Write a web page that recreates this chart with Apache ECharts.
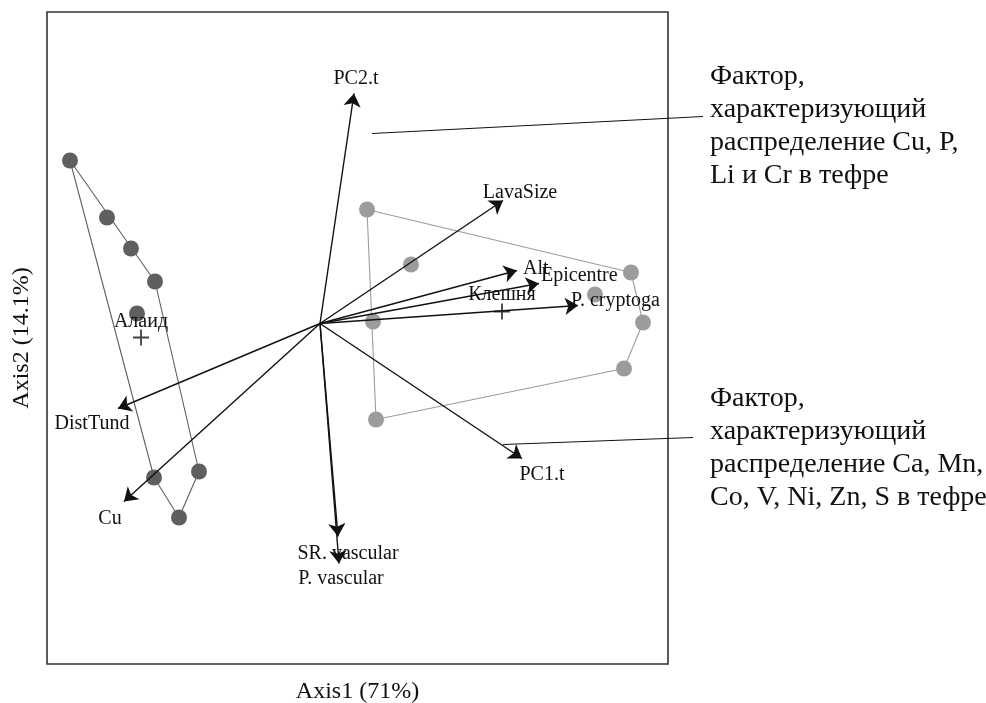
<!DOCTYPE html>
<html>
<head>
<meta charset="utf-8">
<script src="https://cdn.jsdelivr.net/npm/echarts@6/dist/echarts.min.js"></script>
<style>
  html, body { margin: 0; padding: 0; background: #fff; }
  #chart { width: 986px; height: 703px; }
</style>
</head>
<body>
<div id="chart"></div>
<script>
// Site scores on the first two ordination axes, one list per volcano
const alaidSites = [[-2.50, 1.63], [-2.13, 1.06], [-1.89, 0.75], [-1.65, 0.42], [-1.83, 0.10], [-1.66, -1.54], [-1.21, -1.48], [-1.41, -1.94]];
const kleshnyaSites = [[0.47, 1.14], [0.91, 0.59], [0.53, 0.02], [3.11, 0.51], [2.75, 0.29], [3.23, 0.01], [3.04, -0.45], [0.56, -0.96]];
const groupNames = ['Алаид', 'Клешня'];
const groupCentroids = [[-1.79, -0.14], [1.82, 0.12]];

// Fitted environmental vectors (arrow tips; all start at the origin)
const vectorNames = ['PC2.t', 'LavaSize', 'Alt', 'Epicentre', 'P. cryptoga', 'PC1.t', 'SR. vascular', 'P. vascular', 'DistTund', 'Cu'];
const vectorTips = [[0.34, 2.30], [1.83, 1.23], [1.97, 0.53], [2.19, 0.40], [2.58, 0.18], [2.02, -1.35], [0.18, -2.13], [0.19, -2.40], [-2.02, -0.85], [-1.96, -1.78]];

const axisTitles = ['Axis1 (71%)', 'Axis2 (14.1%)'];

// Explanatory notes for the two tephra factors, with the point each leader line starts from
const factorNotes = [
  'Фактор,\nхарактеризующий\nраспределение Cu, P,\nLi и Cr в тефре',
  'Фактор,\nхарактеризующий\nраспределение Ca, Mn,\nCo, V, Ni, Zn, S в тефре'
];
const factorAnchors = [[0.52, 1.90], [1.83, -1.21]];
const factorLeaderEnds = [[3.83, 2.07], [3.73, -1.14]];

// ---- styling ----
const FONT = '"Liberation Serif", "Times New Roman", serif';
const TEXT = '#111';
const groupColors = ['#5f5f62', '#9c9c9c'];
// label placement for each vector: [dx, dy] from the arrow tip, and alignment
const vectorLabelPlace = {
  'PC2.t': [2, -15, 'center'],
  'LavaSize': [17, -8, 'center'],
  'Alt': [6, -2, 'left'],
  'Epicentre': [2, -8, 'left'],
  'P. cryptoga': [-7, -5, 'left'],
  'PC1.t': [20, 16, 'center'],
  'SR. vascular': [10, 17, 'center'],
  'P. vascular': [2, 15, 'center'],
  'DistTund': [-26, 15, 'center'],
  'Cu': [-14, 17, 'center']
};
const groupLabelDy = [-16, -17];

// convex hull (monotone chain) around a group of sites
function hull(pts) {
  const p = pts.slice().sort((a, b) => a[0] - b[0] || a[1] - b[1]);
  const cross = (o, a, b) => (a[0] - o[0]) * (b[1] - o[1]) - (a[1] - o[1]) * (b[0] - o[0]);
  const lower = [], upper = [];
  for (const q of p) {
    while (lower.length >= 2 && cross(lower[lower.length - 2], lower[lower.length - 1], q) <= 0) lower.pop();
    lower.push(q);
  }
  for (let i = p.length - 1; i >= 0; i--) {
    const q = p[i];
    while (upper.length >= 2 && cross(upper[upper.length - 2], upper[upper.length - 1], q) <= 0) upper.pop();
    upper.push(q);
  }
  upper.pop(); lower.pop();
  const h = lower.concat(upper);
  h.push(h[0]);
  return h;
}

const groups = [alaidSites, kleshnyaSites];
const series = [];

groups.forEach((sites, g) => {
  series.push({
    type: 'line', data: hull(sites), symbol: 'none', silent: true, z: 1,
    lineStyle: { color: groupColors[g], width: 1.1 }
  });
  series.push({
    type: 'scatter', data: sites, symbolSize: 16, silent: true, z: 2,
    itemStyle: { color: groupColors[g], opacity: 1 }
  });
});

// arrows from the origin
series.push({
  type: 'lines', coordinateSystem: 'cartesian2d', silent: true, z: 4,
  symbol: ['none', 'arrow'], symbolSize: [0, 13],
  lineStyle: { color: '#111', width: 1.4, opacity: 1 },
  data: vectorTips.map(t => ({ coords: [[0, 0], t] }))
});

// factor leader lines (run past the frame to the notes)
series.push({
  type: 'lines', coordinateSystem: 'cartesian2d', silent: true, z: 4, clip: false,
  lineStyle: { color: '#111', width: 1.2, opacity: 1 },
  data: factorAnchors.map((a, i) => ({ coords: [a, factorLeaderEnds[i]] }))
});

// centroid crosses
series.push({
  type: 'scatter', data: groupCentroids, silent: true, z: 5,
  symbol: 'path://M0,7.1H16V8.9H0Z M7.1,0H8.9V16H7.1Z', symbolSize: 16,
  itemStyle: { color: '#111' }
});

const labelStyle = {
  show: true, position: 'inside', formatter: p => p.name,
  fontFamily: FONT, fontSize: 20, color: TEXT, verticalAlign: 'middle',
  textBorderWidth: 0, opacity: 1
};

// vector labels
series.push({
  type: 'scatter', silent: true, z: 6, symbolSize: 1,
  itemStyle: { color: 'rgba(0,0,0,0)' },
  data: vectorTips.map((t, i) => {
    const pl = vectorLabelPlace[vectorNames[i]];
    return {
      value: t, name: vectorNames[i],
      label: { offset: [pl[0], pl[1]], align: pl[2] }
    };
  }),
  label: labelStyle
});

// group labels above the centroids
series.push({
  type: 'scatter', silent: true, z: 6, symbolSize: 1,
  itemStyle: { color: 'rgba(0,0,0,0)' },
  data: groupCentroids.map((c, i) => ({ value: c, name: groupNames[i], label: { offset: [0, groupLabelDy[i]], align: 'center' } })),
  label: labelStyle
});

const chart = echarts.init(document.getElementById('chart'), null, { renderer: 'canvas' });
chart.setOption({
  animation: false,
  backgroundColor: '#fff',
  grid: {
    left: 47, top: 12, width: 621, height: 652,
    outerBoundsMode: 'none', containLabel: false,
    show: true, borderColor: '#333', borderWidth: 1.6, backgroundColor: 'transparent'
  },
  xAxis: {
    type: 'value', min: -2.73, max: 3.48,
    name: axisTitles[0], nameLocation: 'middle', nameGap: 16,
    nameTextStyle: { fontFamily: FONT, fontSize: 24, color: TEXT },
    axisLine: { show: false }, axisTick: { show: false }, axisLabel: { show: false }, splitLine: { show: false }
  },
  yAxis: {
    type: 'value', min: -3.405, max: 3.115,
    name: axisTitles[1], nameLocation: 'middle', nameGap: 13,
    nameTextStyle: { fontFamily: FONT, fontSize: 24, color: TEXT },
    axisLine: { show: false }, axisTick: { show: false }, axisLabel: { show: false }, splitLine: { show: false }
  },
  graphic: [
    { type: 'text', left: 710, top: 60, style: { text: factorNotes[0], font: '28px ' + FONT, lineHeight: 33, fill: TEXT } },
    { type: 'text', left: 710, top: 382, style: { text: factorNotes[1], font: '28px ' + FONT, lineHeight: 33, fill: TEXT } }
  ],
  series: series
});
</script>
</body>
</html>
